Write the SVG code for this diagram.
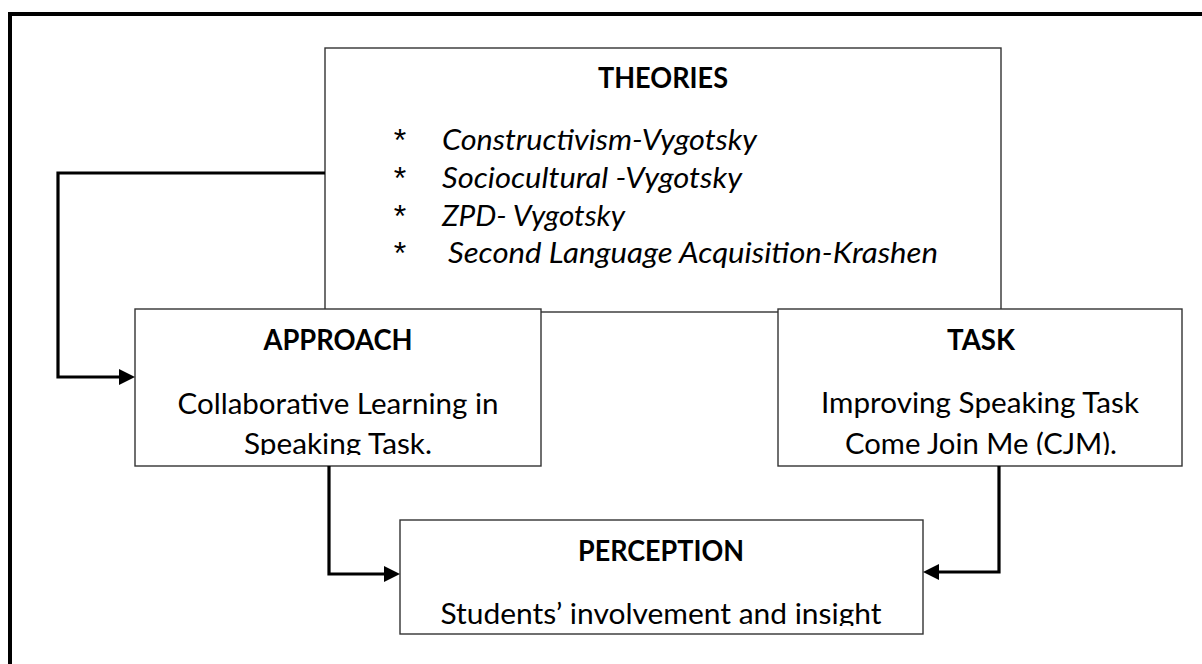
<svg xmlns="http://www.w3.org/2000/svg" width="1202" height="664" viewBox="0 0 1202 664">
<style>
.box{fill:#fff;stroke:#333;stroke-width:1.4}
.t{font-family:Lato,"Open Sans","Liberation Sans",sans-serif;font-size:28px;fill:#000}
.b{font-weight:bold;text-anchor:middle}
.c{text-anchor:middle}
.i{font-style:italic}
.ast{font-family:"Liberation Sans",Arial,sans-serif;font-size:32px;text-anchor:middle;fill:#000}
.conn{fill:none;stroke:#000;stroke-width:3.2;stroke-linejoin:miter}
</style>
<defs>
<marker id="arr" markerUnits="userSpaceOnUse" markerWidth="16" markerHeight="16" refX="6" refY="8" orient="auto">
<path d="M0,0 L16,8 L0,16 z" fill="#000"/>
</marker>
<clipPath id="clipA"><rect x="135" y="309" width="406" height="146"/></clipPath>
<clipPath id="clipT"><rect x="778" y="309" width="404" height="146"/></clipPath>
<clipPath id="clipP"><rect x="400" y="520" width="523" height="106"/></clipPath>
</defs>
<rect width="1202" height="664" fill="#fff"/>
<path id="frame" d="M10,666 V14 H1204" fill="none" stroke="#000" stroke-width="4"/>
<g id="theories">
<rect class="box" x="325" y="48" width="676" height="264"/>
<text class="t b" x="663" y="88" textLength="130" lengthAdjust="spacingAndGlyphs">THEORIES</text>
<text class="ast" x="400" y="151">*</text>
<text class="ast" x="400" y="189">*</text>
<text class="ast" x="400" y="227">*</text>
<text class="ast" x="400" y="264">*</text>
<text class="t i" x="442" y="150" textLength="315" lengthAdjust="spacingAndGlyphs">Constructivism-Vygotsky</text>
<text class="t i" x="442" y="188" textLength="300" lengthAdjust="spacingAndGlyphs">Sociocultural -Vygotsky</text>
<text class="t i" x="442" y="226" textLength="183" lengthAdjust="spacingAndGlyphs">ZPD- Vygotsky</text>
<text class="t i" x="448" y="263" textLength="490" lengthAdjust="spacingAndGlyphs">Second Language Acquisition-Krashen</text>
</g>
<g id="approach">
<rect class="box" x="135" y="309" width="406" height="157"/>
<text class="t b" x="338" y="350" textLength="149" lengthAdjust="spacingAndGlyphs">APPROACH</text>
<text class="t c" x="338" y="414" textLength="321" lengthAdjust="spacingAndGlyphs">Collaborative Learning in</text>
<text class="t c" x="338" y="454" textLength="188" lengthAdjust="spacingAndGlyphs" clip-path="url(#clipA)">Speaking Task.</text>
</g>
<g id="task">
<rect class="box" x="778" y="309" width="404" height="157"/>
<text class="t b" x="981" y="350" textLength="68" lengthAdjust="spacingAndGlyphs">TASK</text>
<text class="t c" x="980" y="413" textLength="318" lengthAdjust="spacingAndGlyphs">Improving Speaking Task</text>
<text class="t c" x="981" y="454" textLength="272" lengthAdjust="spacingAndGlyphs" clip-path="url(#clipT)">Come Join Me (CJM).</text>
</g>
<g id="perception">
<rect class="box" x="400" y="520" width="523" height="114"/>
<text class="t b" x="661" y="561" textLength="166" lengthAdjust="spacingAndGlyphs">PERCEPTION</text>
<text class="t c" x="661" y="624" textLength="441" lengthAdjust="spacingAndGlyphs" clip-path="url(#clipP)">Students’ involvement and insight</text>
</g>
<g id="connectors">
<path class="conn" d="M325,173 H58 V377 H125" marker-end="url(#arr)"/>
<path class="conn" d="M329,466 V574 H390" marker-end="url(#arr)"/>
<path class="conn" d="M999,466 V572 H933" marker-end="url(#arr)"/>
</g>
</svg>
